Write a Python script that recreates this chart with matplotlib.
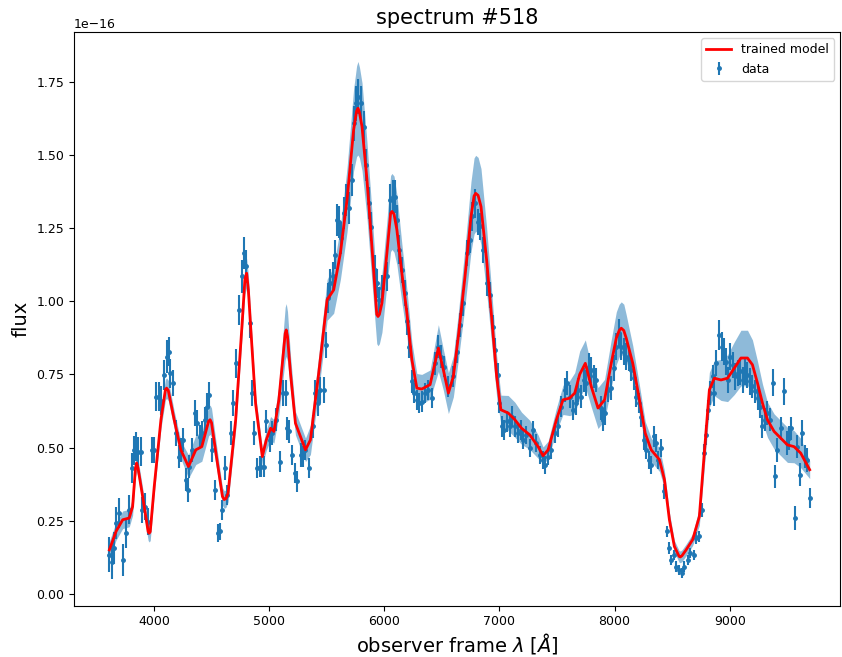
import numpy as np
import matplotlib
matplotlib.use("Agg")
import matplotlib.pyplot as plt

# observed spectrum (flux in units of 1e-16)
wave = [3613, 3636, 3656, 3671, 3700, 3729, 3758, 3786, 3810, 3830, 3844, 3859, 3887,
        3896, 3925, 3946, 3983, 4003, 4017, 4040, 4061, 4089, 4110, 4127, 4141, 4167,
        4190, 4214, 4236, 4254, 4277, 4292, 4306, 4329, 4358, 4378, 4398, 4421, 4444,
        4465, 4479, 4502, 4531, 4560, 4574, 4595, 4618, 4638, 4667, 4690, 4710, 4739,
        4768, 4785, 4803, 4831, 4855, 4869, 4897, 4918,
        4926, 4955, 4970, 5004, 5028, 5056, 5091, 5120, 5143, 5157, 5177, 5200, 5223,
        5244, 5273, 5293, 5316, 5345, 5379, 5403, 5426, 5446, 5475, 5495, 5512, 5532,
        5552, 5576, 5593, 5610, 5628, 5648, 5668, 5697, 5720, 5734, 5755, 5772, 5801,
        5821, 5842, 5864, 5887, 5916, 5937, 5957, 5980, 6023, 6052, 6072, 6095, 6110,
        6130, 6153, 6176, 6197, 6217, 6240, 6262, 6283, 6303,
        6326, 6355, 6384, 6413, 6442, 6470, 6494, 6523, 6557, 6600, 6629, 6658, 6687,
        6716, 6745, 6765, 6788, 6811, 6834, 6860, 6889, 6918, 6941, 6961, 6985, 6998,
        7019, 7042, 7065, 7088, 7111, 7134, 7163, 7186, 7209, 7235, 7264, 7293, 7322,
        7351, 7379, 7400, 7423, 7452, 7481, 7509, 7538, 7567, 7590, 7610, 7639, 7662,
        7682,
        7711, 7734, 7755, 7775, 7798, 7821, 7841, 7879, 7899, 7919, 7942, 7965, 7994,
        8015, 8035, 8058, 8081, 8101, 8121, 8144, 8167, 8188, 8208, 8231, 8254, 8274,
        8295, 8318, 8341, 8361, 8381, 8404, 8427, 8456, 8476, 8491, 8519, 8534, 8563,
        8583, 8606, 8634, 8658, 8687, 8707, 8736, 8759, 8773, 8794, 8808, 8831, 8851,
        8866, 8880, 8909, 8929, 8946, 8967, 8981, 9004, 9024, 9045, 9068, 9091, 9111,
        9132, 9154, 9177, 9197, 9218, 9241, 9264, 9284, 9305, 9327, 9351, 9377, 9394,
        9414, 9443, 9472, 9495, 9515, 9535, 9564, 9587, 9610, 9630, 9654, 9674, 9694]

flux = [0.133, 0.110, 0.156, 0.242, 0.276, 0.116, 0.207, 0.287, 0.430, 0.490, 0.503, 0.486, 0.486,
        0.287, 0.298, 0.247, 0.492, 0.492, 0.674, 0.674, 0.660, 0.748, 0.811, 0.828, 0.754, 0.720,
        0.549, 0.469, 0.492, 0.526, 0.390, 0.355, 0.435, 0.492, 0.618, 0.583, 0.537, 0.549, 0.595,
        0.640, 0.680, 0.492, 0.355, 0.207, 0.213, 0.287, 0.430, 0.338, 0.549, 0.652, 0.788, 0.970,
        1.085, 1.164, 1.119, 0.925, 0.686, 0.549, 0.430, 0.435,
        0.435, 0.435, 0.589, 0.526, 0.549, 0.595, 0.452, 0.686, 0.686, 0.566, 0.555, 0.475, 0.412,
        0.384, 0.475, 0.469, 0.492, 0.430, 0.572, 0.686, 0.652, 0.697, 0.697, 0.851, 1.011, 1.062,
        1.085, 1.159, 1.278, 1.272, 1.216, 1.301, 1.347, 1.318, 1.415, 1.609, 1.677, 1.700, 1.677,
        1.597, 1.466, 1.335, 1.255, 1.107, 1.062, 1.005, 1.045, 1.085, 1.347, 1.358, 1.358, 1.278,
        1.176, 1.107, 1.028, 0.931, 0.845, 0.726, 0.686, 0.663, 0.652,
        0.657, 0.686, 0.697, 0.669, 0.788, 0.845, 0.811, 0.777, 0.709, 0.743, 0.828, 0.919, 0.994,
        1.164, 1.210, 1.290, 1.335, 1.272, 1.256, 1.176, 1.062, 1.022, 0.913, 0.834, 0.748, 0.652,
        0.572, 0.560, 0.589, 0.572, 0.606, 0.572, 0.549, 0.560, 0.526, 0.543, 0.498, 0.560, 0.515,
        0.475, 0.458, 0.441, 0.469, 0.492, 0.549, 0.572, 0.640, 0.697, 0.720, 0.674, 0.629, 0.652,
        0.697,
        0.674, 0.731, 0.720, 0.777, 0.766, 0.743, 0.731, 0.635, 0.595, 0.618, 0.697, 0.703, 0.771,
        0.845, 0.891, 0.845, 0.828, 0.811, 0.800, 0.766, 0.737, 0.674, 0.652, 0.606, 0.526, 0.492,
        0.458, 0.441, 0.538, 0.515, 0.458, 0.498, 0.350, 0.213, 0.156, 0.116, 0.133, 0.093, 0.082,
        0.071, 0.093, 0.116, 0.139, 0.133, 0.190, 0.196, 0.287, 0.481, 0.543, 0.629, 0.686, 0.743,
        0.686, 0.788, 0.885, 0.845, 0.828, 0.794, 0.731, 0.811, 0.783, 0.743, 0.754, 0.760, 0.731,
        0.760, 0.748, 0.726, 0.709, 0.692, 0.669, 0.640, 0.572, 0.595, 0.618, 0.595, 0.722, 0.401,
        0.492, 0.566, 0.692, 0.515, 0.532, 0.566, 0.259, 0.503, 0.407, 0.549, 0.469, 0.458, 0.327]

flux_err = [0.060, 0.060, 0.055, 0.055, 0.050, 0.055, 0.050, 0.050, 0.050, 0.050, 0.050, 0.050, 0.050,
            0.045, 0.045, 0.045, 0.045, 0.045, 0.050, 0.050, 0.050, 0.050, 0.055, 0.050, 0.050, 0.045,
            0.045, 0.040, 0.040, 0.040, 0.040, 0.040, 0.040, 0.040, 0.045, 0.045, 0.040, 0.040, 0.045,
            0.045, 0.045, 0.040, 0.035, 0.030, 0.030, 0.035, 0.040, 0.035, 0.040, 0.045, 0.050, 0.050,
            0.055, 0.055, 0.055, 0.050, 0.045, 0.040, 0.035, 0.035,
            0.035, 0.035, 0.040, 0.040, 0.040, 0.040, 0.035, 0.045, 0.045, 0.040, 0.040, 0.035, 0.035,
            0.035, 0.040, 0.035, 0.035, 0.035, 0.040, 0.045, 0.045, 0.045, 0.045, 0.045, 0.050, 0.050,
            0.050, 0.050, 0.055, 0.055, 0.055, 0.055, 0.055, 0.055, 0.055, 0.060, 0.060, 0.060, 0.060,
            0.055, 0.055, 0.055, 0.050, 0.050, 0.050, 0.045, 0.045, 0.050, 0.055, 0.055, 0.055, 0.050,
            0.050, 0.045, 0.045, 0.045, 0.040, 0.040, 0.035, 0.035, 0.035,
            0.035, 0.035, 0.035, 0.035, 0.040, 0.040, 0.040, 0.035, 0.035, 0.035, 0.040, 0.040, 0.045,
            0.045, 0.045, 0.050, 0.050, 0.045, 0.045, 0.045, 0.045, 0.045, 0.040, 0.040, 0.040, 0.035,
            0.035, 0.035, 0.035, 0.035, 0.035, 0.035, 0.035, 0.035, 0.030, 0.030, 0.030, 0.030, 0.030,
            0.030, 0.030, 0.030, 0.030, 0.030, 0.035, 0.035, 0.035, 0.040, 0.040, 0.040, 0.035, 0.040,
            0.040,
            0.040, 0.040, 0.045, 0.045, 0.045, 0.040, 0.040, 0.040, 0.040, 0.040, 0.040, 0.040, 0.045,
            0.045, 0.050, 0.045, 0.045, 0.045, 0.040, 0.040, 0.040, 0.035, 0.035, 0.035, 0.035, 0.030,
            0.030, 0.030, 0.035, 0.030, 0.030, 0.030, 0.025, 0.020, 0.020, 0.018, 0.018, 0.018, 0.018,
            0.018, 0.018, 0.018, 0.018, 0.018, 0.020, 0.020, 0.025, 0.030, 0.035, 0.035, 0.040, 0.040,
            0.045, 0.045, 0.050, 0.050, 0.045, 0.045, 0.045, 0.045, 0.045, 0.045, 0.045, 0.045, 0.045,
            0.045, 0.045, 0.045, 0.040, 0.040, 0.040, 0.040, 0.040, 0.040, 0.040, 0.040, 0.045, 0.040,
            0.040, 0.040, 0.045, 0.040, 0.040, 0.040, 0.040, 0.040, 0.040, 0.045, 0.040, 0.040, 0.035]

# trained model mean and 1-sigma band
model_wave = [3613, 3671, 3729, 3786, 3815, 3840, 3850, 3862, 3902, 3950, 3959, 3968, 4003,
              4061, 4100, 4110, 4125, 4176, 4234, 4300, 4364, 4416, 4475, 4488, 4500, 4543,
              4595, 4610, 4625, 4644, 4710, 4768, 4790, 4805, 4820, 4840, 4883, 4941,
              4976, 5013, 5042, 5085, 5140, 5149, 5160, 5186, 5229, 5316, 5359, 5431, 5504,
              5561, 5619, 5677, 5734, 5760, 5772, 5785, 5807, 5850, 5893, 5935, 5946, 5958,
              5980, 6023, 6055, 6067, 6085, 6110, 6153, 6197,
              6240, 6283, 6326, 6398, 6470, 6513, 6557, 6600, 6643, 6701, 6753, 6780, 6794,
              6815, 6840, 6889, 6932, 6976, 7013, 7076, 7134, 7192, 7264, 7336, 7379, 7423,
              7495, 7552, 7610, 7654, 7697, 7746, 7798, 7856, 7913, 7971, 8015, 8040, 8058,
              8080, 8101, 8158, 8216, 8266, 8318, 8390, 8433, 8476, 8519, 8560, 8571, 8585,
              8621, 8678, 8736, 8779, 8823, 8866, 8924, 8981, 9039, 9097, 9154, 9197, 9241,
              9284, 9327, 9385, 9443, 9501, 9558, 9616, 9694]
model_flux = [0.150, 0.213, 0.253, 0.259, 0.298, 0.430, 0.447, 0.430, 0.333, 0.212, 0.207, 0.212, 0.367,
              0.595, 0.698, 0.703, 0.695, 0.595, 0.492, 0.435, 0.492, 0.503, 0.590, 0.595, 0.585, 0.469,
              0.333, 0.322, 0.325, 0.344, 0.595, 0.936, 1.075, 1.096, 1.040, 0.913, 0.650, 0.469,
              0.526, 0.566, 0.555, 0.663, 0.890, 0.902, 0.880, 0.754, 0.583, 0.492, 0.526, 0.754, 1.005,
              1.039, 1.164, 1.347, 1.586, 1.650, 1.660, 1.645, 1.597, 1.415, 1.187, 0.955, 0.948, 0.955,
              0.994, 1.164, 1.300, 1.307, 1.298, 1.244, 1.096, 0.959,
              0.800, 0.703, 0.700, 0.715, 0.840, 0.766, 0.686, 0.743, 0.879, 1.084, 1.289, 1.360, 1.369,
              1.362, 1.324, 1.141, 0.948, 0.743, 0.629, 0.618, 0.595, 0.566, 0.543, 0.503, 0.472, 0.492,
              0.595, 0.663, 0.669, 0.686, 0.750, 0.788, 0.708, 0.635, 0.663, 0.788, 0.874, 0.900, 0.908,
              0.900, 0.874, 0.788, 0.663, 0.549, 0.492, 0.458, 0.390, 0.253, 0.162, 0.128, 0.126, 0.130,
              0.150, 0.185, 0.264, 0.481, 0.697, 0.737, 0.731, 0.737, 0.771, 0.806, 0.806, 0.783, 0.720,
              0.652, 0.595, 0.555, 0.532, 0.509, 0.503, 0.481, 0.424]
model_sigma = [0.030, 0.030, 0.030, 0.030, 0.030, 0.030, 0.030, 0.030, 0.030, 0.030, 0.030, 0.030, 0.025,
               0.030, 0.035, 0.035, 0.035, 0.030, 0.030, 0.040, 0.050, 0.050, 0.050, 0.050, 0.050, 0.040,
               0.030, 0.030, 0.030, 0.030, 0.035, 0.040, 0.050, 0.050, 0.050, 0.040, 0.030, 0.030,
               0.035, 0.040, 0.040, 0.050, 0.090, 0.090, 0.085, 0.060, 0.040, 0.040, 0.050, 0.060, 0.070,
               0.080, 0.090, 0.110, 0.140, 0.155, 0.160, 0.155, 0.150, 0.130, 0.120, 0.100, 0.100, 0.100,
               0.100, 0.110, 0.130, 0.130, 0.130, 0.120, 0.100, 0.080,
               0.060, 0.050, 0.050, 0.050, 0.080, 0.070, 0.070, 0.070, 0.080, 0.100, 0.120, 0.130, 0.130,
               0.130, 0.130, 0.110, 0.090, 0.070, 0.050, 0.060, 0.060, 0.055, 0.050, 0.040, 0.030, 0.030,
               0.040, 0.050, 0.060, 0.070, 0.080, 0.080, 0.070, 0.070, 0.070, 0.080, 0.090, 0.090, 0.090,
               0.090, 0.080, 0.060, 0.050, 0.040, 0.040, 0.040, 0.030, 0.025, 0.020, 0.020, 0.020, 0.020,
               0.020, 0.020, 0.030, 0.050, 0.060, 0.060, 0.070, 0.080, 0.090, 0.095, 0.095, 0.085, 0.075,
               0.065, 0.060, 0.060, 0.060, 0.060, 0.055, 0.050, 0.030]

scale = 1e-16
wave = np.array(wave)
flux = np.array(flux) * scale
flux_err = np.array(flux_err) * scale
model_wave = np.array(model_wave)
model_flux = np.array(model_flux) * scale
model_sigma = np.array(model_sigma) * scale

fig = plt.figure(figsize=(8.42, 6.57), dpi=100)
ax = fig.add_axes([0.088, 0.078, 0.91, 0.873])

ax.fill_between(model_wave, model_flux - model_sigma, model_flux + model_sigma,
                color='tab:blue', alpha=0.5, lw=0)
ax.errorbar(wave, flux, yerr=flux_err, fmt='.', color='tab:blue', ms=5, label='data')
ax.plot(model_wave, model_flux, color='red', lw=2, label='trained model', zorder=5)

ax.set_xlim(3307, 9960)
ax.set_ylim(-0.041e-16, 1.92e-16)
ax.tick_params(labelsize=9)
ax.yaxis.get_offset_text().set_fontsize(9)
ax.set_title('spectrum #518', fontsize=15)
ax.set_xlabel(r'observer frame $\lambda$ [$\AA$]', fontsize=14, labelpad=2)
ax.set_ylabel('flux', fontsize=14)
ax.legend(loc='upper right', fontsize=9)

fig.savefig('out.png', dpi=100)
